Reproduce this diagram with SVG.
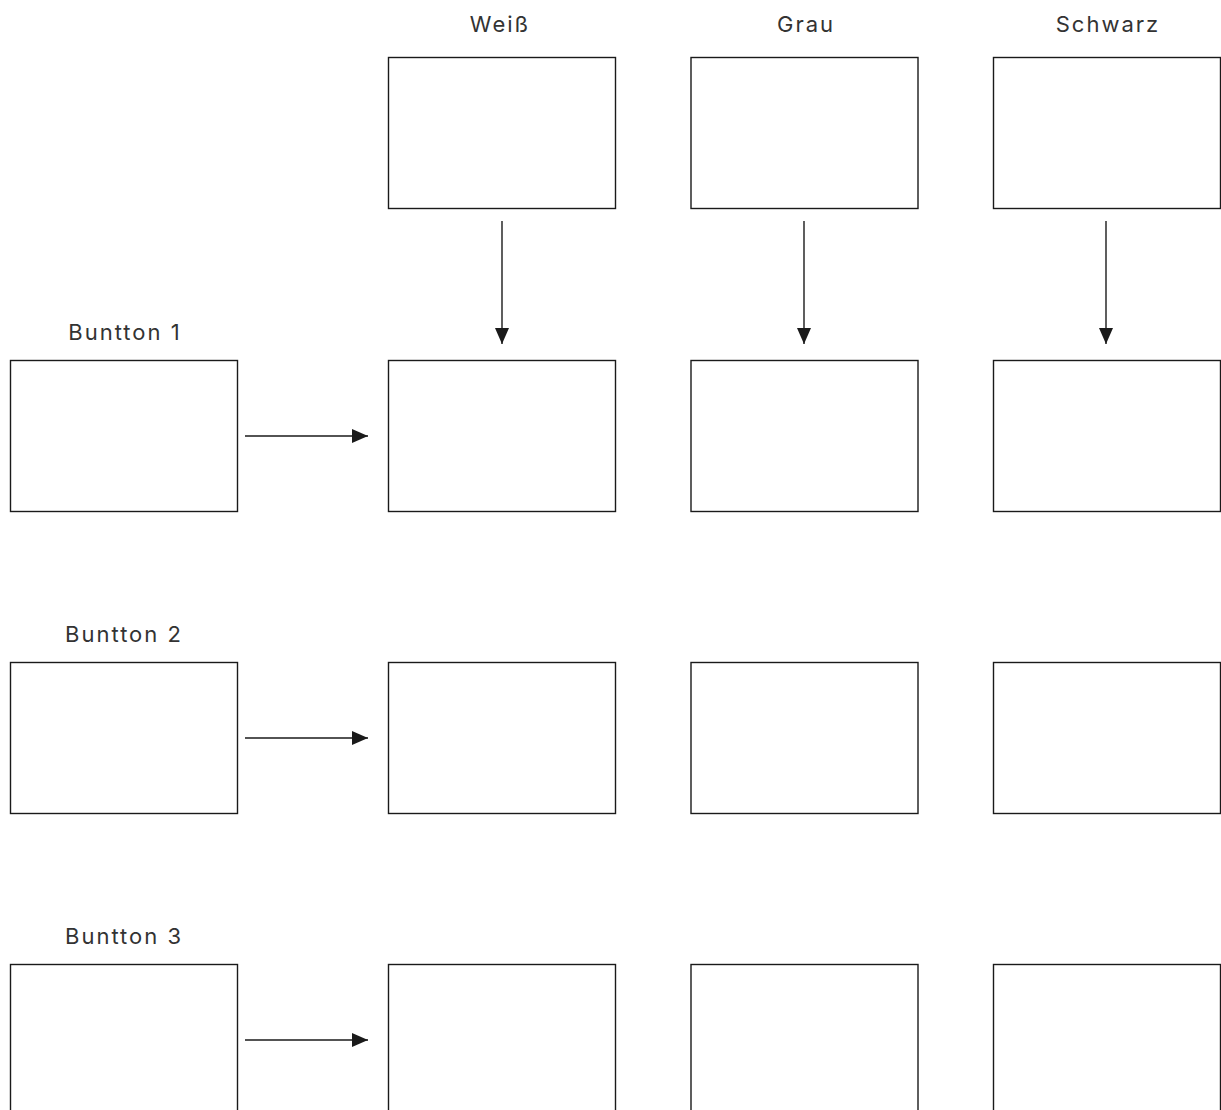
<svg xmlns="http://www.w3.org/2000/svg" width="1221" height="1110" viewBox="0 0 1221 1110">
  <defs>
    <marker id="arrow" markerWidth="16" markerHeight="14" refX="16" refY="7" orient="auto" markerUnits="userSpaceOnUse">
      <path d="M0,0 L16,7 L0,14 Z" fill="#1a1a1a"/>
    </marker>
  </defs>
  <style>
    .box { fill: #fff; stroke: #1a1a1a; stroke-width: 1.4; }
    .label { font-family: Inter, "Liberation Sans", sans-serif; font-size: 22px; letter-spacing: 2px; fill: #333; text-anchor: middle; }
    .edge { stroke: #1a1a1a; stroke-width: 1.4; fill: none; marker-end: url(#arrow); }
  </style>
  <rect width="1221" height="1110" fill="#fff"/>

  <!-- column headers -->
  <g id="col-weiss">
    <text class="label" x="500" y="32">Weiß</text>
    <rect class="box" x="388.5" y="57.5" width="227" height="151"/>
  </g>
  <g id="col-grau">
    <text class="label" x="806" y="32">Grau</text>
    <rect class="box" x="691" y="57.5" width="227" height="151"/>
  </g>
  <g id="col-schwarz">
    <text class="label" x="1108" y="32">Schwarz</text>
    <rect class="box" x="993.5" y="57.5" width="227" height="151"/>
  </g>

  <!-- row 1 -->
  <g id="button-1">
    <text class="label" x="125" y="340">Buntton 1</text>
    <rect class="box" x="10.5" y="360.5" width="227" height="151"/>
  </g>
  <g id="r1-weiss"><rect class="box" x="388.5" y="360.5" width="227" height="151"/></g>
  <g id="r1-grau"><rect class="box" x="691" y="360.5" width="227" height="151"/></g>
  <g id="r1-schwarz"><rect class="box" x="993.5" y="360.5" width="227" height="151"/></g>

  <!-- row 2 -->
  <g id="button-2">
    <text class="label" x="124" y="642">Buntton 2</text>
    <rect class="box" x="10.5" y="662.5" width="227" height="151"/>
  </g>
  <g id="r2-weiss"><rect class="box" x="388.5" y="662.5" width="227" height="151"/></g>
  <g id="r2-grau"><rect class="box" x="691" y="662.5" width="227" height="151"/></g>
  <g id="r2-schwarz"><rect class="box" x="993.5" y="662.5" width="227" height="151"/></g>

  <!-- row 3 -->
  <g id="button-3">
    <text class="label" x="124" y="944">Buntton 3</text>
    <rect class="box" x="10.5" y="964.5" width="227" height="151"/>
  </g>
  <g id="r3-weiss"><rect class="box" x="388.5" y="964.5" width="227" height="151"/></g>
  <g id="r3-grau"><rect class="box" x="691" y="964.5" width="227" height="151"/></g>
  <g id="r3-schwarz"><rect class="box" x="993.5" y="964.5" width="227" height="151"/></g>

  <!-- connectors -->
  <g id="connectors">
    <line class="edge" x1="502" y1="221" x2="502" y2="344"/>
    <line class="edge" x1="804" y1="221" x2="804" y2="344"/>
    <line class="edge" x1="1106" y1="221" x2="1106" y2="344"/>
    <line class="edge" x1="245" y1="436" x2="368" y2="436"/>
    <line class="edge" x1="245" y1="738" x2="368" y2="738"/>
    <line class="edge" x1="245" y1="1040" x2="368" y2="1040"/>
  </g>
</svg>
